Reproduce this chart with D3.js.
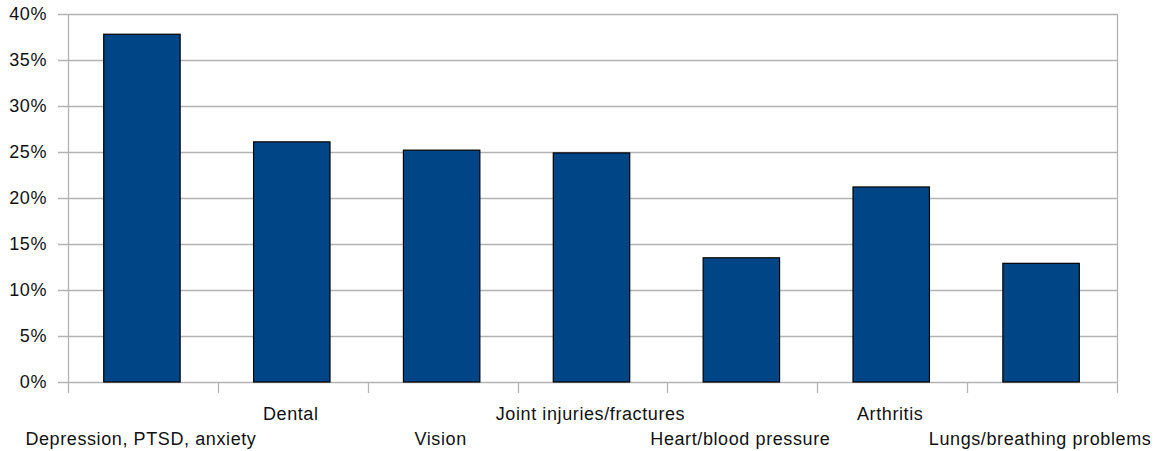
<!DOCTYPE html>
<html><head><meta charset="utf-8">
<script src="https://cdn.jsdelivr.net/npm/d3@7"></script>
<style>body{margin:0;background:#fff}svg{display:block}text{font-family:"Liberation Sans",Arial,sans-serif;letter-spacing:0.6px}</style>
</head><body><svg id="c" width="1158" height="451"></svg>
<script>
const categories = ["Depression, PTSD, anxiety","Dental","Vision","Joint injuries/fractures","Heart/blood pressure","Arthritis","Lungs/breathing problems"];
const values = [0.378, 0.261, 0.252, 0.249, 0.135, 0.212, 0.129];
const yTicks = [0,0.05,0.1,0.15,0.2,0.25,0.3,0.35,0.4];

const svg = d3.select("#c");
const L=68, R=1117, T=14, B=382;
const x = d3.scaleBand().domain(categories).range([L,R]).paddingInner(0.49).paddingOuter(0.245);
const xb = d3.scaleBand().domain(categories).range([L,R]);
const y = d3.scaleLinear().domain([0,0.4]).range([B,T]);
const grid="#b3b3b3";

svg.append("g").selectAll("line").data(yTicks).join("line")
  .attr("x1",L-10).attr("x2",R).attr("y1",d=>Math.round(y(d))+0.5).attr("y2",d=>Math.round(y(d))+0.5)
  .attr("stroke",grid).attr("stroke-width",1.3);
svg.append("g").selectAll("text").data(yTicks).join("text")
  .attr("x",L-21).attr("y",d=>y(d)+6).attr("text-anchor","end").attr("font-size",18).attr("fill","#111")
  .text(d3.format(".0%"));
svg.append("line").attr("x1",L+0.5).attr("x2",L+0.5).attr("y1",T).attr("y2",B+11).attr("stroke",grid).attr("stroke-width",1.3);
svg.append("line").attr("x1",R+0.5).attr("x2",R+0.5).attr("y1",T).attr("y2",B+11).attr("stroke",grid).attr("stroke-width",1.3);
svg.append("g").selectAll("line").data(categories.slice(1)).join("line")
  .attr("x1",d=>Math.round(xb(d))+0.5).attr("x2",d=>Math.round(xb(d))+0.5).attr("y1",B).attr("y2",B+11)
  .attr("stroke",grid).attr("stroke-width",1.3);
svg.append("g").selectAll("rect").data(values).join("rect")
  .attr("x",(d,i)=>x(categories[i])-1).attr("width",x.bandwidth())
  .attr("y",d=>y(d)).attr("height",d=>B-y(d))
  .attr("fill","#004586").attr("stroke","#000").attr("stroke-width",1.2);
svg.append("g").selectAll("text").data(categories).join("text")
  .attr("x",d=>xb(d)+xb.bandwidth()/2-2).attr("y",(d,i)=>i%2?420:445)
  .attr("text-anchor","middle").attr("font-size",18).attr("fill","#111").text(d=>d);
</script></body></html>
